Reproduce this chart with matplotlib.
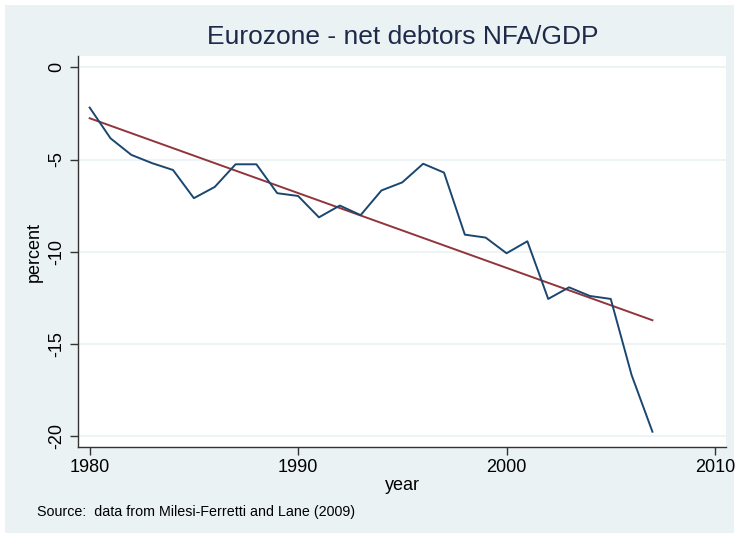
#!/usr/bin/env python3
"""Eurozone net debtors: NFA/GDP with linear fit"""
import matplotlib
matplotlib.use("Agg")
import matplotlib.pyplot as plt
from matplotlib.patches import Rectangle
import numpy as np

plt.rcParams["font.family"] = ["Liberation Sans", "DejaVu Sans"]

years = list(range(1980, 2008))
nfa_gdp = [-2.18, -3.85, -4.75, -5.20, -5.57, -7.10, -6.49, -5.26, -5.26, -6.83,
           -6.98, -8.14, -7.50, -8.02, -6.68, -6.24, -5.23, -5.71, -9.08, -9.24,
           -10.09, -9.44, -12.57, -11.94, -12.41, -12.57, -16.70, -19.78]
x_ticks = [1980, 1990, 2000, 2010]
y_ticks = [0, -5, -10, -15, -20]

BG = "#eaf2f3"
NAVY = "#1a476f"
MAROON = "#90353b"

fig = plt.figure(figsize=(7.39, 5.38), dpi=100)
fig.patch.set_facecolor("white")
fig.patches.append(Rectangle((5 / 739, 5 / 538), 729 / 739, 528 / 538,
                             transform=fig.transFigure, facecolor=BG,
                             edgecolor="none", zorder=-1))

ax = fig.add_axes([78 / 739, 1 - 447 / 538, 648 / 739, 391 / 538])
ax.set_zorder(2)
ax.set_facecolor("white")

# linear fit over the same years
yrs = np.array(years, dtype=float)
slope, icpt = np.polyfit(yrs, np.array(nfa_gdp), 1)
ax.plot(yrs, slope * yrs + icpt, color=MAROON, lw=1.4, zorder=3)
ax.plot(years, nfa_gdp, color=NAVY, lw=1.4, zorder=4)

ax.set_xlim(1979.44, 2010.53)
ax.set_ylim(-20.61, 0.62)
ax.set_xticks(x_ticks)
ax.set_yticks(y_ticks)
ax.set_yticklabels([str(v) for v in y_ticks], rotation=90, va="center")
ax.grid(axis="y", color=BG, lw=1.2)
ax.set_axisbelow(True)

for s in ("top", "right"):
    ax.spines[s].set_visible(False)
for s in ("left", "bottom"):
    ax.spines[s].set_color("#333333")
    ax.spines[s].set_linewidth(1.0)
ax.tick_params(direction="out", length=6, width=1.0, color="#333333",
               labelsize=13, labelcolor="black", pad=3)

ax.set_xlabel("year", fontsize=13, labelpad=0)
ax.set_ylabel("percent", fontsize=13, labelpad=4)

fig.text(403 / 739, 1 - 37 / 538, "Eurozone - net debtors NFA/GDP",
         ha="center", va="center", fontsize=19, color="#1e2a4a")
fig.text(37 / 739, 1 - 512 / 538, "Source:  data from Milesi-Ferretti and Lane (2009)",
         ha="left", va="center", fontsize=10.3)

fig.savefig("out.png", dpi=100, facecolor=fig.get_facecolor())
